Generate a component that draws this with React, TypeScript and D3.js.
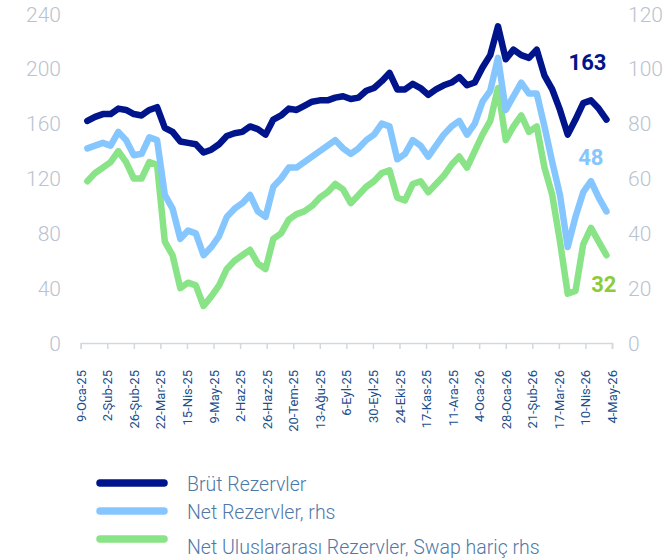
import React, { useEffect, useRef } from 'react';
import * as d3 from 'd3';

// weekly readings, first week 15-Jan-25
const brut = [162, 165, 167, 167, 171, 170, 167, 166, 170, 172, 157, 154, 147, 146, 145, 139, 141, 145, 151, 153,
  154, 158, 156, 152, 163, 166, 171, 170, 173, 176, 177, 177, 179, 180, 178, 179, 184, 186, 191, 197,
  185, 185, 189, 186, 181, 185, 188, 190, 194, 188, 190, 201, 210, 231, 207, 214, 210, 208, 214, 195,
  185, 170, 152, 163, 175, 177, 171, 163];
const net = [71, 72, 73, 72, 77, 74, 68.5, 69, 75, 74, 54, 49, 38, 41, 40, 32, 35, 39, 46, 49,
  51, 54, 48, 46, 57, 60, 64, 64, 66, 68, 70, 72, 74, 71, 69, 71, 74, 76, 80, 79,
  67, 69, 74, 72, 68, 72, 76, 79, 81, 76, 80, 88, 92, 104, 85, 90, 95, 91, 91, 79,
  66, 54, 35, 46, 55, 59, 53, 48];
const nir = [59, 62, 64, 66, 70, 66, 60, 60, 66, 65, 37, 32, 20, 22, 21, 13.5, 17, 21, 27, 30,
  32, 34, 29, 27, 38, 40, 45, 47, 48, 50, 53, 55, 58, 56, 51, 54, 57, 59, 62, 63,
  53, 52, 58, 59, 55, 58, 61, 65, 68, 64, 70, 76, 81, 93, 74, 79, 83, 77, 79, 64,
  54, 37, 18, 19, 36, 42, 37, 32];

const tickLabels = ['9-Oca-25', '2-Şub-25', '26-Şub-25', '22-Mar-25', '15-Nis-25', '9-May-25', '2-Haz-25',
  '26-Haz-25', '20-Tem-25', '13-Ağu-25', '6-Eyl-25', '30-Eyl-25', '24-Eki-25', '17-Kas-25', '11-Ara-25',
  '4-Oca-26', '28-Oca-26', '21-Şub-26', '17-Mar-26', '10-Nis-26', '4-May-26'];
const leftTicks = [0, 40, 80, 120, 160, 200, 240];
const rightTicks = [0, 20, 40, 60, 80, 100, 120];

const legend = ['Brüt Rezervler', 'Net Rezervler, rhs', 'Net Uluslararası Rezervler, Swap hariç rhs'];
const colors = ['#00148c', '#86c6ff', '#89e387'];

export default function App() {
  const ref = useRef<SVGSVGElement>(null);

  useEffect(() => {
    const svg = d3.select(ref.current);
    svg.selectAll('*').remove();

    const first = new Date(2025, 0, 9);
    const start = new Date(2025, 0, 15);
    const dates = brut.map((_, i) => d3.timeDay.offset(start, 7 * i));
    const tickDates = tickLabels.map((_, i) => d3.timeDay.offset(first, 24 * i));

    const x = d3.scaleTime().domain([first, tickDates[tickDates.length - 1]]).range([80.7, 612]);
    const yL = d3.scaleLinear().domain([0, 240]).range([343, 14]);
    const yR = d3.scaleLinear().domain([0, 120]).range([343, 14]);

    // y labels
    svg.append('g').selectAll('text').data(leftTicks).join('text')
      .attr('x', 61).attr('y', d => yL(d)).attr('dy', '0.36em')
      .attr('text-anchor', 'end')
      .attr('font-family', 'Roboto').attr('font-weight', 300).attr('font-size', 21)
      .attr('fill', '#b9c3cf').text(d => d);
    svg.append('g').selectAll('text').data(rightTicks).join('text')
      .attr('x', 628).attr('y', d => yR(d)).attr('dy', '0.36em')
      .attr('font-family', 'Roboto').attr('font-weight', 300).attr('font-size', 21)
      .attr('fill', '#b9c3cf').text(d => d);

    // x axis
    const xAxis = svg.append('g').attr('transform', 'translate(0,343)')
      .call(d3.axisBottom(x).tickValues(tickDates).tickSize(6).tickFormat((_, i) => tickLabels[i]));
    xAxis.select('.domain').attr('stroke', '#d3d8df').attr('stroke-width', 1.5);
    xAxis.selectAll('.tick line').attr('stroke', '#d3d8df').attr('stroke-width', 1.5);
    xAxis.selectAll('.tick text')
      .attr('transform', 'rotate(-90)')
      .attr('x', -27).attr('y', 0).attr('dy', '0.35em')
      .attr('text-anchor', 'end')
      .attr('font-family', 'Roboto').attr('font-size', 13)
      .attr('fill', '#1c4f8c');

    const series = [
      { vals: brut, y: yL },
      { vals: nir, y: yR },
      { vals: net, y: yR },
    ];
    const colorOf = [colors[0], colors[2], colors[1]];
    series.forEach((s, k) => {
      const line = d3.line<number>().x((_, i) => x(dates[i])).y(d => s.y(d));
      svg.append('path').attr('d', line(s.vals))
        .attr('fill', 'none').attr('stroke', colorOf[k]).attr('stroke-width', 6.5)
        .attr('stroke-linejoin', 'round').attr('stroke-linecap', 'round');
    });

    const xEnd = x(dates[dates.length - 1]);
    const lbl = (t: string, xx: number, yy: number, fill: string) =>
      svg.append('text').attr('x', xx).attr('y', yy).attr('text-anchor', 'end')
        .attr('font-family', 'Roboto').attr('font-weight', 'bold').attr('font-size', 22)
        .attr('fill', fill).text(t);
    lbl(String(brut[brut.length - 1]), xEnd, yL(brut[brut.length - 1]) - 50, '#00148c');
    lbl(String(net[net.length - 1]), xEnd - 3, yR(net[net.length - 1]) - 46, '#86c6ff');
    lbl(String(nir[nir.length - 1]), xEnd + 10, yR(nir[nir.length - 1]) + 37, '#8ccb3c');

    // legend
    const lg = svg.append('g');
    const ly = [483, 511, 539];
    legend.forEach((t, i) => {
      lg.append('line').attr('x1', 100).attr('x2', 164).attr('y1', ly[i]).attr('y2', ly[i])
        .attr('stroke', colors[i]).attr('stroke-width', 7.5).attr('stroke-linecap', 'round');
      lg.append('text').attr('x', 187).attr('y', ly[i] + (i === 2 ? 8 : 1)).attr('dy', '0.36em')
        .attr('font-family', 'Roboto').attr('font-weight', 300).attr('font-size', 19.5)
        .attr('fill', '#4f78a6').text(t);
    });
  }, []);

  return (
    <svg ref={ref} width={669} height={560}
      style={{ position: 'absolute', left: 0, top: 0, background: '#fff' }} />
  );
}
